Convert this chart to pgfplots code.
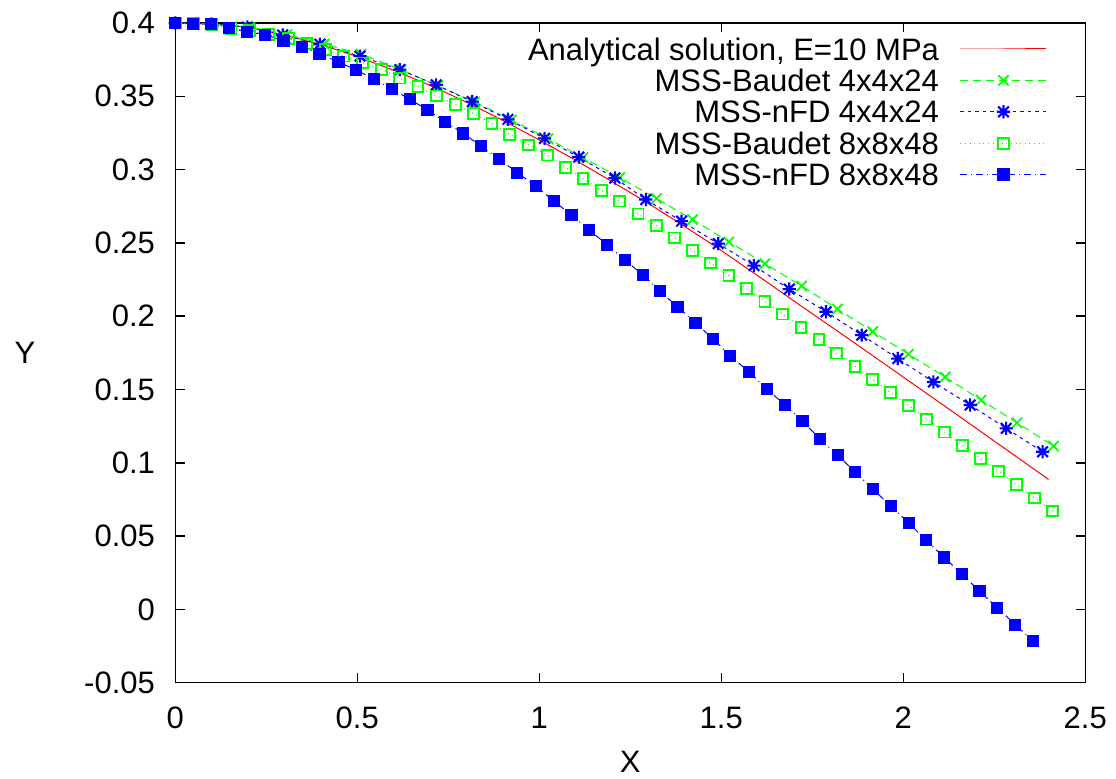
\documentclass[border=0pt]{standalone}
\usepackage{fontspec}
\setmainfont{Liberation Sans}
\usepackage{pgfplots}
\pgfplotsset{compat=1.18}
\definecolor{gpred}{RGB}{255,0,0}
\definecolor{gpgreen}{RGB}{0,255,0}
\definecolor{gpblue}{RGB}{0,0,255}
\pgfdeclareplotmark{gpstar}{%
  \pgfpathmoveto{\pgfqpoint{-\pgfplotmarksize}{0pt}}\pgfpathlineto{\pgfqpoint{\pgfplotmarksize}{0pt}}%
  \pgfpathmoveto{\pgfqpoint{0pt}{-\pgfplotmarksize}}\pgfpathlineto{\pgfqpoint{0pt}{\pgfplotmarksize}}%
  \pgfpathmoveto{\pgfqpoint{-.8\pgfplotmarksize}{-.8\pgfplotmarksize}}\pgfpathlineto{\pgfqpoint{.8\pgfplotmarksize}{.8\pgfplotmarksize}}%
  \pgfpathmoveto{\pgfqpoint{-.8\pgfplotmarksize}{.8\pgfplotmarksize}}\pgfpathlineto{\pgfqpoint{.8\pgfplotmarksize}{-.8\pgfplotmarksize}}%
  \pgfusepathqstroke}
\begin{document}
\begin{tikzpicture}[font=\fontsize{15.5}{18.6}\selectfont]
\useasboundingbox (-87.65pt,-48.15pt) rectangle (470.35pt,341.35pt);
\begin{axis}[
  at={(0,0)}, anchor=south west,
  scale only axis, width=455pt, height=329.85pt,
  xmin=0, xmax=2.5, ymin=-0.05, ymax=0.4,
  xtick={0,0.5,1,1.5,2,2.5},
  ytick={-0.05,0,0.05,0.1,0.15,0.2,0.25,0.3,0.35,0.4},
  yticklabels={-0.05,0,0.05,0.1,0.15,0.2,0.25,0.3,0.35,0.4},
  xticklabels={0,0.5,1,1.5,2,2.5},
  tick align=inside, major tick length=4.7pt,
  axis line style={line width=0.75pt},
  every tick/.style={black, line width=0.75pt},
  ticklabel style={inner sep=0pt},
  xticklabel style={anchor=north, yshift=-12pt},
  yticklabel style={anchor=east, xshift=-10pt},
  xlabel={X}, ylabel={Y},
  every axis x label/.style={at={(axis description cs:0.5,0)}, anchor=center, yshift=-39.65pt},
  every axis y label/.style={at={(axis description cs:0,0.5)}, anchor=center, xshift=-75.15pt},
  clip=false,
  legend cell align=right,
  legend plot pos=right,
  legend style={at={(rel axis cs:1,1)}, anchor=north east, xshift=-19.15pt, yshift=-7.45pt,
    draw=none, fill=none, inner sep=0pt, outer sep=0pt, row sep=4.6pt, column sep=10.5pt,
    nodes={inner sep=0pt, text height=11.1pt, text depth=0pt}},
  legend image code/.code={\draw[mark repeat=2,mark phase=2,#1] plot coordinates {(0pt,0pt) (21.5pt,0pt) (43pt,0pt)};},
]
\addplot[gpred, line width=0.5pt, no marks] coordinates {
(0,0.4) (0.0990,0.3993) (0.1980,0.3973) (0.2951,0.3920) (0.3974,0.3855) (0.4964,0.3774)
(0.5976,0.3680) (0.6986,0.3576) (0.7976,0.3463) (0.8966,0.3340) (0.9964,0.3207) (1.0927,0.3074)
(1.1917,0.2930) (1.2940,0.2778) (1.3908,0.2626) (1.4871,0.2470) (1.6062,0.2266) (1.7162,0.2075)
(1.8537,0.1839) (2.1287,0.1361) (2.3991,0.0886)};
\addlegendentry{Analytical solution, E=10 MPa}
\addplot[gpgreen, line width=0.5pt, dash pattern=on 4pt off 2.5pt, mark=x, mark size=3.6pt,
  mark options={solid, line width=0.85pt}] coordinates {
(0,0.4) (0.1031,0.3993) (0.2049,0.3971) (0.3067,0.3921) (0.4084,0.3856) (0.5107,0.3788)
(0.6207,0.3682) (0.7214,0.3571) (0.8223,0.3462) (0.9232,0.3339) (1.0239,0.3211) (1.1202,0.3082)
(1.2211,0.2945) (1.3221,0.2803) (1.4211,0.2659) (1.5209,0.2507) (1.6199,0.2358) (1.7209,0.2206)
(1.8188,0.2049) (1.9161,0.1895) (2.0140,0.1741) (2.1150,0.1585) (2.2140,0.1428) (2.3122,0.1273)
(2.4128,0.1114)};
\addlegendentry{MSS-Baudet 4x4x24}
\addplot[gpblue, line width=0.5pt, dash pattern=on 1.75pt off 2pt, mark=gpstar, mark size=3.3pt,
  mark options={solid, line width=1.05pt}] coordinates {
(0,0.4) (0.0990,0.3993) (0.1980,0.3973) (0.2951,0.3918) (0.3974,0.3855) (0.5074,0.3774)
(0.6166,0.3682) (0.7167,0.3578) (0.8157,0.3464) (0.9139,0.3343) (1.0146,0.3213) (1.1086,0.3085)
(1.2076,0.2942) (1.2926,0.2796) (1.3908,0.2648) (1.4915,0.2495) (1.5897,0.2345) (1.6868,0.2185)
(1.7877,0.2030) (1.8859,0.1871) (1.9849,0.1711) (2.0828,0.1551) (2.1837,0.1394) (2.2827,0.1235)
(2.3826,0.1075)};
\addlegendentry{MSS-nFD 4x4x24}
\addplot[gpgreen, line width=0.5pt, dash pattern=on 0.5pt off 1.8pt, mark=square, mark size=2.7pt,
  mark options={solid, line width=0.95pt}] coordinates {
(0,0.4) (0.0503,0.3996) (0.1012,0.3988) (0.1532,0.3964) (0.2035,0.3947) (0.2558,0.3920)
(0.3108,0.3895) (0.3595,0.3861) (0.4117,0.3820) (0.4629,0.3774) (0.5151,0.3728) (0.5657,0.3685)
(0.6161,0.3624) (0.6664,0.3567) (0.7170,0.3503) (0.7693,0.3446) (0.8196,0.3382) (0.8699,0.3314)
(0.9186,0.3241) (0.9708,0.3168) (1.0223,0.3099) (1.0712,0.3016) (1.1202,0.2938) (1.1708,0.2858)
(1.2211,0.2785) (1.2715,0.2698) (1.3221,0.2618) (1.3724,0.2534) (1.4211,0.2447) (1.4706,0.2363)
(1.5209,0.2278) (1.5696,0.2187) (1.6199,0.2101) (1.6686,0.2014) (1.7189,0.1925) (1.7684,0.1839)
(1.8171,0.1748) (1.8674,0.1659) (1.9161,0.1567) (1.9656,0.1478) (2.0151,0.1389) (2.0646,0.1298)
(2.1130,0.1209) (2.1625,0.1120) (2.2112,0.1031) (2.2607,0.0943) (2.3102,0.0852) (2.3597,0.0760)
(2.4101,0.0671)};
\addlegendentry{MSS-Baudet 8x8x48}
\addplot[gpblue, line width=0.5pt, dash pattern=on 3.5pt off 2pt on 0.5pt off 2pt, mark=square*, mark size=2.8pt,
  mark options={solid}] coordinates {
(0,0.4) (0.0476,0.3995) (0.0982,0.3991) (0.1485,0.3964) (0.1972,0.3940) (0.2467,0.3920)
(0.2970,0.3879) (0.3474,0.3838) (0.3960,0.3788) (0.4483,0.3735) (0.4970,0.3679) (0.5465,0.3617)
(0.5949,0.3549) (0.6444,0.3480) (0.6931,0.3407) (0.7418,0.3325) (0.7913,0.3246) (0.8408,0.3159)
(0.8903,0.3070) (0.9398,0.2979) (0.9901,0.2887) (1.0396,0.2787) (1.0883,0.2689) (1.1367,0.2589)
(1.1862,0.2488) (1.2357,0.2381) (1.2852,0.2281) (1.3311,0.2172) (1.3798,0.2064) (1.4293,0.1955)
(1.4777,0.1843) (1.5245,0.1731) (1.5751,0.1622) (1.6246,0.1505) (1.6749,0.1394) (1.7231,0.1285)
(1.7712,0.1161) (1.8199,0.1052) (1.8683,0.0936) (1.9169,0.0819) (1.9664,0.0703) (2.0160,0.0587)
(2.0627,0.0471) (2.1122,0.0354) (2.1617,0.0240) (2.2093,0.0124) (2.2580,0.0012) (2.3075,-0.0104)
(2.3562,-0.0218)};
\addlegendentry{MSS-nFD 8x8x48}
\end{axis}
\end{tikzpicture}
\end{document}
